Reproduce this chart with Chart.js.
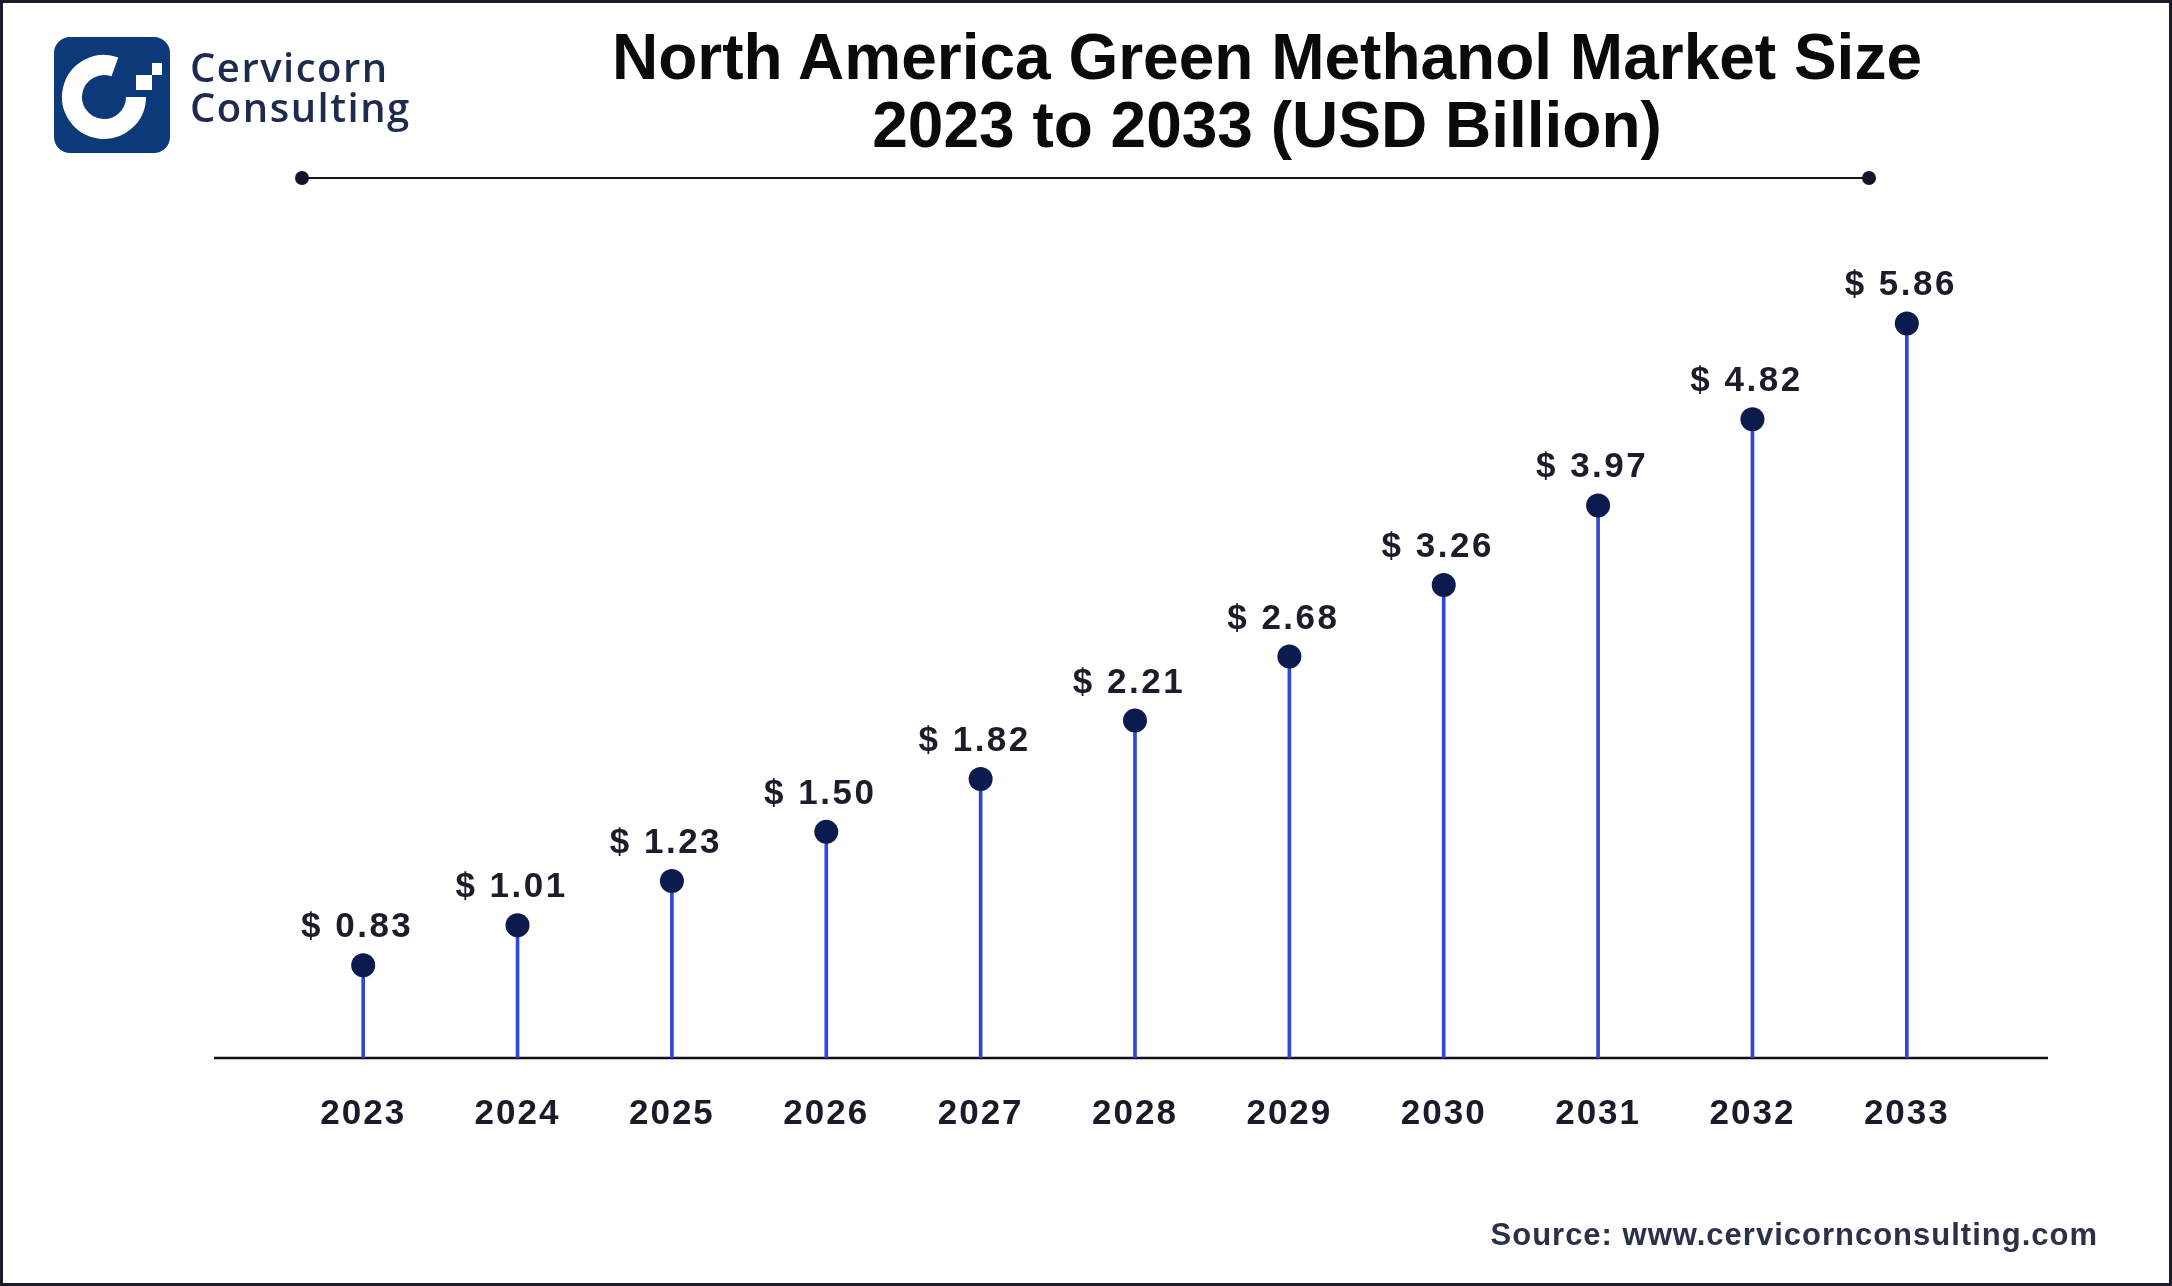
<!DOCTYPE html>
<html>
<head>
<meta charset="utf-8">
<script src="https://cdn.jsdelivr.net/npm/chart.js@4.4.0/dist/chart.umd.min.js"></script>
<style>
  html, body { margin: 0; padding: 0; background: #fff; }
  #wrap { position: relative; width: 2172px; height: 1286px; overflow: hidden; background: #fff; font-family: "Liberation Sans", Arial, sans-serif; }
  #chart { position: absolute; left: 0; top: 0; }
  #frame { position: absolute; left: 0; top: 0; width: 2172px; height: 1286px; box-sizing: border-box; border: 3px solid #1b1b2b; pointer-events: none; }
  .txt { position: absolute; white-space: nowrap; line-height: 1; }
  .title { left: 1267px; transform: translateX(-50%); font-size: 64px; font-weight: bold; color: #0a0a0a; }
  .brand { left: 190px; font-family: "Open Sans", sans-serif; font-weight: 600; font-size: 40px; letter-spacing: 1.5px; color: #1d2b4f; }
  #source { right: 74px; top: 1219px; font-size: 31px; font-weight: bold; letter-spacing: 1px; color: #2b3148; }
  #logo { position: absolute; left: 54px; top: 37px; }
  #rule { position: absolute; left: 302px; top: 177px; width: 1567px; height: 2px; background: #14142a; }
  .knob { position: absolute; top: 171px; width: 14px; height: 14px; border-radius: 50%; background: #14142a; }
</style>
</head>
<body>
<div id="wrap">
  <canvas id="chart" width="2172" height="1286"></canvas>

  <svg id="logo" width="116" height="116" viewBox="0 0 116 116">
    <rect width="116" height="116" rx="16" fill="#0c3a78"/>
    <path d="M 82 60 A 32 32 0 1 1 60.9 29.9" fill="none" stroke="#fff" stroke-width="20"/>
    <rect x="82" y="38" width="16" height="15" fill="#fff"/>
    <rect x="98" y="26" width="10" height="12" fill="#fff"/>
  </svg>
  <div class="txt brand" style="top:47px">Cervicorn</div>
  <div class="txt brand" style="top:87px">Consulting</div>

  <div class="txt title" style="top:25px">North America Green Methanol Market Size</div>
  <div class="txt title" style="top:93px">2023 to 2033 (USD Billion)</div>
  <div id="rule"></div>
  <div class="knob" style="left:295px"></div>
  <div class="knob" style="left:1862px"></div>

  <div id="source" class="txt">Source: www.cervicornconsulting.com</div>
  <div id="frame"></div>
</div>

<script>
var years = ["2023", "2024", "2025", "2026", "2027", "2028", "2029", "2030", "2031", "2032", "2033"];
var marketSize = [0.83, 1.01, 1.23, 1.50, 1.82, 2.21, 2.68, 3.26, 3.97, 4.82, 5.86];
var valuePrefix = "$ ";

// square-root value axis (the lollipops in the picture are spaced that way)
class SqrtScale extends Chart.LinearScale {
  getPixelForValue(value) {
    var v = Math.max(value, this.min);
    var lo = Math.sqrt(this.min), hi = Math.sqrt(this.max);
    return this.getPixelForDecimal((Math.sqrt(v) - lo) / (hi - lo));
  }
  getValueForPixel(pixel) {
    var lo = Math.sqrt(this.min), hi = Math.sqrt(this.max);
    var s = lo + this.getDecimalForPixel(pixel) * (hi - lo);
    return s * s;
  }
}
SqrtScale.id = "sqrt";
SqrtScale.defaults = Chart.LinearScale.defaults;
Chart.register(SqrtScale);

var spacing = {
  id: "spacing",
  beforeDraw: function (chart) {
    chart.ctx.letterSpacing = "2px";
  }
};

var baseLine = {
  id: "baseLine",
  beforeDatasetsDraw: function (chart) {
    var ctx = chart.ctx, a = chart.chartArea;
    ctx.save();
    ctx.strokeStyle = "#111111";
    ctx.lineWidth = 2.5;
    ctx.beginPath();
    ctx.moveTo(a.left - 72, a.bottom);
    ctx.lineTo(a.right + 64, a.bottom);
    ctx.stroke();
    ctx.restore();
  }
};

var valueLabels = {
  id: "valueLabels",
  afterDatasetsDraw: function (chart) {
    var ctx = chart.ctx;
    var meta = chart.getDatasetMeta(1);
    ctx.save();
    ctx.font = "bold 35px 'Liberation Sans', Arial, sans-serif";
    ctx.letterSpacing = "2.5px";
    ctx.fillStyle = "#1c1c2a";
    ctx.textAlign = "center";
    ctx.textBaseline = "alphabetic";
    meta.data.forEach(function (pt, i) {
      ctx.fillText(valuePrefix + marketSize[i].toFixed(2), pt.x - 6, pt.y - 28);
    });
    ctx.restore();
  }
};

new Chart("chart", {
  type: "bar",
  data: {
    labels: years,
    datasets: [{
      data: marketSize,
      backgroundColor: "#3146d8",
      barThickness: 3,
      order: 2
    }, {
      type: "line",
      data: marketSize,
      showLine: false,
      pointRadius: 12,
      pointHoverRadius: 12,
      pointBorderWidth: 0,
      pointBackgroundColor: "#0b1b4d",
      order: 1
    }]
  },
  options: {
    responsive: false,
    animation: false,
    events: [],
    layout: { padding: { left: 286, right: 188, top: 294, bottom: 148 } },
    plugins: {
      legend: { display: false },
      tooltip: { enabled: false }
    },
    scales: {
      x: {
        offset: true,
        grid: { display: false },
        border: { display: false },
        ticks: {
          color: "#1a1a28",
          padding: 27,
          font: { family: "'Liberation Sans', Arial, sans-serif", size: 35, weight: "bold" }
        },
        afterFit: function (scale) { scale.height = 80; }
      },
      y: {
        type: "sqrt",
        min: 0.48,
        max: 6.2,
        display: false
      }
    }
  },
  plugins: [spacing, baseLine, valueLabels]
});
</script>
</body>
</html>
